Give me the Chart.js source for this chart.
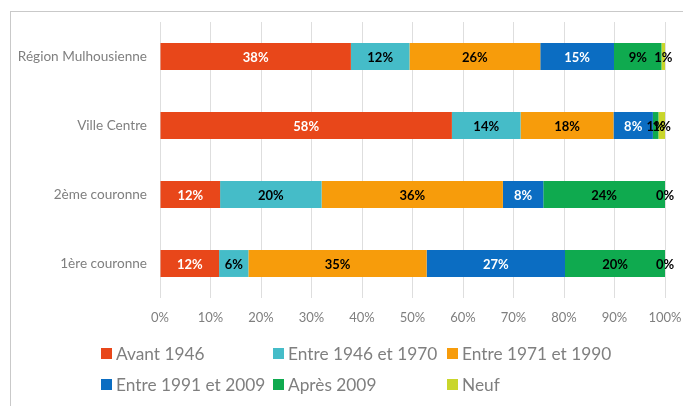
<!DOCTYPE html>
<html>
<head>
<meta charset="utf-8">
<script src="https://cdn.jsdelivr.net/npm/chart.js@4/dist/chart.umd.min.js"></script>
<style>
  body { margin: 0; background: #fff; overflow: hidden; }
  #wrap { position: relative; width: 683px; height: 406px; }
  #frame { position: absolute; left: 10px; top: 11px; width: 700px; height: 420px; border: 1px solid #c9c9c9; }
  canvas { position: absolute; left: 0; top: 0; }
</style>
</head>
<body>
<div id="wrap">
  <div id="frame"></div>
  <canvas id="myChart" width="683" height="406"></canvas>
</div>
<script>
// zones (du haut vers le bas)
const zones = ['Région Mulhousienne', 'Ville Centre', '2ème couronne', '1ère couronne'];

// part des logements par période de construction (%)
const avant1946 = [37.8, 57.8, 11.9, 11.7];
const entre1946_1970 = [11.6, 13.6, 20.1, 5.8];
const entre1971_1990 = [25.9, 18.4, 35.9, 35.3];
const entre1991_2009 = [14.6, 7.8, 8.0, 27.4];
const apres2009 = [9.4, 1.1, 24.1, 19.8];
const neuf = [0.7, 1.3, 0, 0];

const xTicks = [0, 10, 20, 30, 40, 50, 60, 70, 80, 90, 100];

const grey = '#7f7f7f';
const font = 'Lato, "Open Sans", sans-serif';

const series = [
  { label: 'Avant 1946', data: avant1946, color: '#e8471a', txt: '#ffffff' },
  { label: 'Entre 1946 et 1970', data: entre1946_1970, color: '#45bcc8', txt: '#000000' },
  { label: 'Entre 1971 et 1990', data: entre1971_1990, color: '#f79c0b', txt: '#000000' },
  { label: 'Entre 1991 et 2009', data: entre1991_2009, color: '#0b6dc2', txt: '#ffffff' },
  { label: 'Après 2009', data: apres2009, color: '#0faa4f', txt: '#000000' },
  { label: 'Neuf', data: neuf, color: '#c9d62b', txt: '#000000' }
];

// etiquettes au centre de chaque segment
const barLabels = {
  id: 'barLabels',
  afterDatasetsDraw(chart) {
    const ctx = chart.ctx;
    ctx.save();
    ctx.font = 'bold 13px ' + font;
    ctx.textAlign = 'center';
    ctx.textBaseline = 'middle';
    chart.data.datasets.forEach((ds, i) => {
      const meta = chart.getDatasetMeta(i);
      meta.data.forEach((bar, j) => {
        const v = ds.data[j];
        ctx.fillStyle = series[i].txt;
        ctx.fillText(Math.round(v) + '%', (bar.x + bar.base) / 2, bar.y + 1);
      });
    });
    ctx.restore();
  }
};

// legende en colonnes, comme dans Excel
const gridLegend = {
  id: 'gridLegend',
  afterDraw(chart) {
    const ctx = chart.ctx;
    const cols = [101, 273, 447];
    const rows = [353, 384];
    ctx.save();
    ctx.font = '17.3px ' + font;
    ctx.textBaseline = 'middle';
    chart.data.datasets.forEach((ds, i) => {
      const x = cols[i % 3];
      const y = rows[Math.floor(i / 3)];
      ctx.fillStyle = ds.backgroundColor;
      ctx.fillRect(x, y - 5, 11, 11);
      ctx.fillStyle = grey;
      ctx.fillText(ds.label, x + 15, y + 1);
    });
    ctx.restore();
  }
};

const ctx = document.getElementById('myChart').getContext('2d');
const myChart = new Chart(ctx, {
  type: 'bar',
  data: {
    labels: zones,
    datasets: series.map(s => ({
      label: s.label,
      data: s.data,
      backgroundColor: s.color,
      borderWidth: 0,
      categoryPercentage: 1,
      barPercentage: 0.39
    }))
  },
  options: {
    indexAxis: 'y',
    responsive: false,
    animation: false,
    layout: { padding: { top: 22, right: 18, bottom: 78, left: 0 } },
    plugins: {
      legend: { display: false },
      tooltip: { enabled: false }
    },
    scales: {
      x: {
        stacked: true,
        min: 0,
        max: 100,
        afterBuildTicks: (scale) => { scale.ticks = xTicks.map(v => ({ value: v })); },
        afterFit: (scale) => {
          scale.height = 30;
          scale.paddingLeft = 0;
          scale.paddingRight = 0;
        },
        grid: { color: '#dedede', drawTicks: false },
        border: { display: false },
        ticks: {
          padding: 12,
          color: grey,
          font: { family: font, size: 13 },
          callback: (v) => v + '%'
        }
      },
      y: {
        stacked: true,
        afterFit: (scale) => { scale.width = 160; },
        grid: { display: false, drawTicks: false },
        border: { display: false },
        ticks: {
          padding: 13,
          color: grey,
          font: { family: font, size: 13.6 }
        }
      }
    }
  },
  plugins: [barLabels, gridLegend]
});
</script>
</body>
</html>
